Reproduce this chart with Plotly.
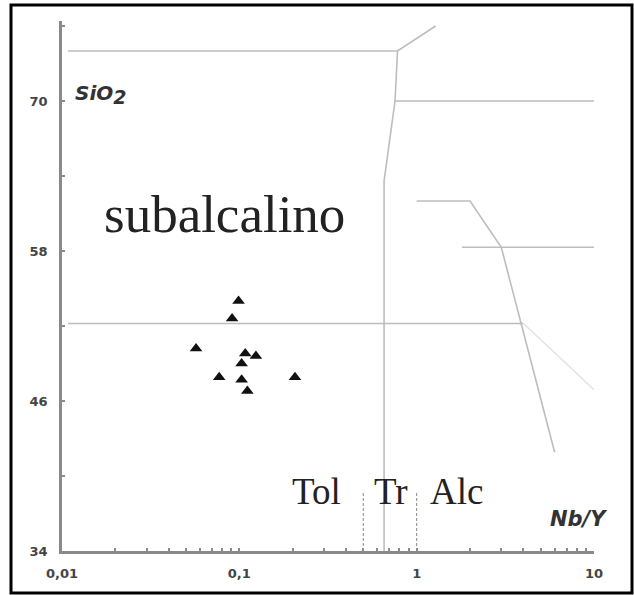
import plotly.graph_objects as go

# Sample compositions: Nb/Y ratio and SiO2 (wt%)
nb_y = [0.099, 0.091, 0.057, 0.108, 0.124, 0.103, 0.077, 0.103, 0.206, 0.111]
sio2 = [54.0, 52.6, 50.2, 49.8, 49.6, 49.0, 47.9, 47.7, 47.9, 46.8]

# Field boundaries (Nb/Y, SiO2)
bnd_top_x = [0.0108, 0.78, 1.28]
bnd_top_y = [74.0, 74.0, 76.0]
bnd_sub_x = [0.78, 0.755, 0.655, 0.655]
bnd_sub_y = [74.0, 70.0, 63.6, 34.0]
bnd_70_x = [0.755, 10.0]
bnd_70_y = [70.0, 70.0]
bnd_alk_x = [1.0, 2.0, 3.0, 6.0]
bnd_alk_y = [62.0, 62.0, 58.3, 41.9]
bnd_58_x = [1.8, 10.0]
bnd_58_y = [58.3, 58.3]
bnd_52_x = [0.0108, 4.0]
bnd_52_y = [52.2, 52.2]
bnd_52b_x = [4.0, 10.0]
bnd_52b_y = [52.2, 46.9]
series_div_x = [0.5, 1.0]
series_div_y = [34.0, 38.7]

x_ticks = [0.01, 0.1, 1, 10]
x_labels = ["0,01", "0,1", "1", "10"]
x_minor = [m * d for d in (0.01, 0.1, 1) for m in range(2, 10)]
y_ticks = [34, 46, 58, 70]
y_labels = ["34", "46", "58", "70"]
y_minor = [40, 52, 64, 76]

fig = go.Figure()

line_gray = dict(color="#bdbdbd", width=1.6)
for xs, ys in [(bnd_top_x, bnd_top_y), (bnd_sub_x, bnd_sub_y), (bnd_70_x, bnd_70_y),
               (bnd_alk_x, bnd_alk_y), (bnd_58_x, bnd_58_y), (bnd_52_x, bnd_52_y)]:
    fig.add_trace(go.Scatter(x=xs, y=ys, mode="lines", line=line_gray,
                             hoverinfo="skip", showlegend=False))
fig.add_trace(go.Scatter(x=bnd_52b_x, y=bnd_52b_y, mode="lines",
                         line=dict(color="#e2e2e2", width=1.4),
                         hoverinfo="skip", showlegend=False))
for xv in series_div_x:
    fig.add_trace(go.Scatter(x=[xv, xv], y=series_div_y, mode="lines",
                             line=dict(color="#888888", width=1, dash="3px,2px"),
                             hoverinfo="skip", showlegend=False))

fig.add_trace(go.Scatter(x=nb_y, y=sio2, mode="markers",
                         marker=dict(symbol="triangle-up", size=11, color="#111111"),
                         showlegend=False))

serif = "Liberation Serif, Times New Roman, serif"
annots = [
    dict(x=-1.0835, y=61.0, text="subalcalino", size=53),
    dict(x=-0.5635, y=38.8, text="Tol", size=37),
    dict(x=-0.1472, y=38.8, text="Tr", size=37),
    dict(x=0.2239, y=38.8, text="Alc", size=37),
]
for a in annots:
    fig.add_annotation(x=a["x"], y=a["y"], xref="x", yref="y", text=a["text"],
                       showarrow=False, xanchor="center", yanchor="middle",
                       font=dict(family=serif, size=a["size"], color="#222222"))

bold_sans = "DejaVu Sans, Arial, sans-serif"
fig.add_annotation(x=-1.94, y=70.5, xref="x", yref="y",
                   text="<i>SiO<sub><span style='font-size:19px'>2</span></sub></i>",
                   showarrow=False, xanchor="left", yanchor="middle",
                   font=dict(family=bold_sans, size=20, color="#333333", weight="bold"))
fig.add_annotation(x=0.91, y=36.6, xref="x", yref="y",
                   text="<i>Nb/Y</i>",
                   showarrow=False, xanchor="center", yanchor="middle",
                   font=dict(family=bold_sans, size=21, color="#333333", weight="bold"))

# Outer frame
fig.add_shape(type="rect", xref="paper", yref="paper",
              x0=(11 - 62) / 532, x1=(632 - 62) / 532,
              y0=(551 - 593) / 530, y1=(551 - 5) / 530,
              line=dict(color="black", width=3), layer="above")

tick_font = dict(family=bold_sans, size=13, color="#444444", weight="bold")
fig.update_layout(
    width=634, height=595,
    margin=dict(l=62, r=40, t=21, b=44),
    paper_bgcolor="white", plot_bgcolor="white",
    xaxis=dict(type="log", range=[-2, 1], showgrid=False, zeroline=False,
               showline=True, linecolor="#8a8a8a", linewidth=2.5,
               tickvals=x_ticks, ticktext=x_labels, ticks="inside", ticklen=3,
               tickcolor="#8a8a8a", tickwidth=1.5, tickfont=tick_font,
               ticklabelstandoff=9,
               minor=dict(tickvals=x_minor, ticks="inside", ticklen=3,
                          tickcolor="#8a8a8a", tickwidth=1.5)),
    yaxis=dict(range=[34, 76.4], showgrid=False, zeroline=False,
               showline=True, linecolor="#8a8a8a", linewidth=2.5,
               tickvals=y_ticks, ticktext=y_labels, ticks="inside", ticklen=3,
               tickcolor="#8a8a8a", tickwidth=1.5, tickfont=tick_font,
               ticklabelstandoff=9,
               minor=dict(tickvals=y_minor, ticks="inside", ticklen=3,
                          tickcolor="#8a8a8a", tickwidth=1.5)),
)

fig.write_html("out.html")
